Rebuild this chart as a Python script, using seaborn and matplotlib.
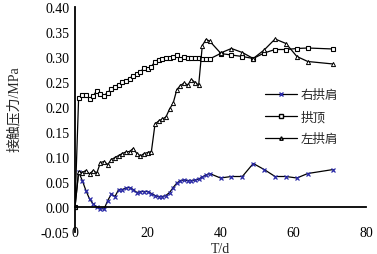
import matplotlib
matplotlib.use("Agg")
import matplotlib.pyplot as plt
import seaborn as sns
import pandas as pd
from matplotlib.lines import Line2D

days = list(range(0, 38)) + [40, 43, 46, 49, 52, 55, 58, 61, 64, 71]

right_shoulder = [0.000, 0.070, 0.053, 0.033, 0.016, 0.006, 0.000, -0.003, -0.004, 0.013,
                  0.026, 0.021, 0.035, 0.035, 0.038, 0.039, 0.035, 0.029, 0.031, 0.031,
                  0.031, 0.027, 0.023, 0.021, 0.021, 0.023, 0.029, 0.039, 0.048, 0.053,
                  0.054, 0.053, 0.053, 0.054, 0.056, 0.060, 0.064, 0.067,
                  0.058, 0.061, 0.061, 0.087, 0.075, 0.061, 0.061, 0.058, 0.067, 0.075]

crown = [0.000, 0.219, 0.224, 0.225, 0.217, 0.222, 0.233, 0.227, 0.223, 0.229,
         0.236, 0.241, 0.245, 0.250, 0.253, 0.257, 0.263, 0.266, 0.270, 0.279,
         0.277, 0.281, 0.291, 0.295, 0.297, 0.298, 0.299, 0.300, 0.304, 0.297,
         0.300, 0.299, 0.299, 0.299, 0.298, 0.297, 0.296, 0.296,
         0.307, 0.304, 0.301, 0.297, 0.308, 0.315, 0.315, 0.317, 0.318, 0.316]

left_shoulder = [0.000, 0.071, 0.069, 0.073, 0.066, 0.073, 0.068, 0.089, 0.091, 0.085,
                 0.095, 0.099, 0.103, 0.107, 0.110, 0.111, 0.117, 0.107, 0.102, 0.107,
                 0.109, 0.111, 0.166, 0.172, 0.176, 0.180, 0.196, 0.208, 0.235, 0.243,
                 0.248, 0.244, 0.255, 0.249, 0.244, 0.323, 0.335, 0.332,
                 0.308, 0.317, 0.309, 0.297, 0.314, 0.336, 0.327, 0.301, 0.291, 0.286]

labels = ["右拱肩", "拱顶", "左拱肩"]
x_ticks = [0, 20, 40, 60, 80]
y_ticks = [-0.05, 0.00, 0.05, 0.10, 0.15, 0.20, 0.25, 0.30, 0.35, 0.40]

sns.set_theme(style="white")
plt.rcParams["font.family"] = ["Liberation Serif", "Noto Sans CJK SC"]
plt.rcParams["axes.unicode_minus"] = False

fig = plt.figure(figsize=(3.77, 2.55), dpi=100)
ax = fig.add_axes([75 / 377, 22 / 255, 291 / 377, 225 / 255])

df = pd.DataFrame({"T": days, "r": right_shoulder, "c": crown, "l": left_shoulder})

blue = "#2a2aa8"
sns.lineplot(data=df, x="T", y="r", ax=ax, color="black", lw=0.9, marker="x",
             markersize=3.0, markeredgecolor=blue, markeredgewidth=0.9,
             sort=False, estimator=None)
sns.lineplot(data=df, x="T", y="c", ax=ax, color="black", lw=0.9, marker="s",
             markersize=3.3, markerfacecolor="white", markeredgecolor="black",
             markeredgewidth=0.8, sort=False, estimator=None)
sns.lineplot(data=df, x="T", y="l", ax=ax, color="black", lw=0.9, marker="^",
             markersize=3.0, markerfacecolor="white", markeredgecolor="black",
             markeredgewidth=0.7, sort=False, estimator=None)

ax.set_xlim(0, 80)
ax.set_ylim(-0.05, 0.40)
ax.set_xticks(x_ticks)
ax.set_xticklabels([str(v) for v in x_ticks])
ax.set_yticks(y_ticks)
ax.set_yticklabels(["%.2f" % v for v in y_ticks])

for s in ["top", "right"]:
    ax.spines[s].set_visible(False)
ax.spines["bottom"].set_position(("data", 0))
ax.spines["left"].set_linewidth(1.3)
ax.spines["bottom"].set_linewidth(1.3)
ax.spines["left"].set_color("black")
ax.spines["bottom"].set_color("black")

ax.tick_params(axis="x", direction="in", length=3, width=1, pad=14, labelsize=10, colors="black")
ax.tick_params(axis="y", direction="in", length=3, width=1, pad=4, labelsize=10, colors="black")
for t in ax.get_xticklabels() + ax.get_yticklabels():
    t.set_family("Liberation Serif")

ax.set_xlabel("T/d", fontsize=10, family="Liberation Serif", labelpad=2)
ax.set_ylabel("接触压力/MPa", fontsize=10, family=["Liberation Serif", "Noto Sans CJK SC"])
ax.yaxis.set_label_coords(-0.185, 0.55)

handles = [
    Line2D([], [], color="black", lw=0.9, marker="x", markersize=2.5, markeredgecolor=blue),
    Line2D([], [], color="black", lw=0.9, marker="s", markersize=3.3,
           markerfacecolor="white", markeredgecolor="black"),
    Line2D([], [], color="black", lw=0.9, marker="^", markersize=2.5,
           markerfacecolor="white", markeredgecolor="black"),
]
leg = ax.legend(handles, labels, loc="upper left", bbox_to_anchor=(262 / 377, 1 - 87 / 255),
                bbox_transform=fig.transFigure, frameon=False,
                handlelength=2.6, handletextpad=0.3, labelspacing=0.7,
                borderaxespad=0, borderpad=0.2,
                prop={"family": ["Noto Sans CJK SC"], "size": 9})

fig.savefig("out.png", dpi=100)
